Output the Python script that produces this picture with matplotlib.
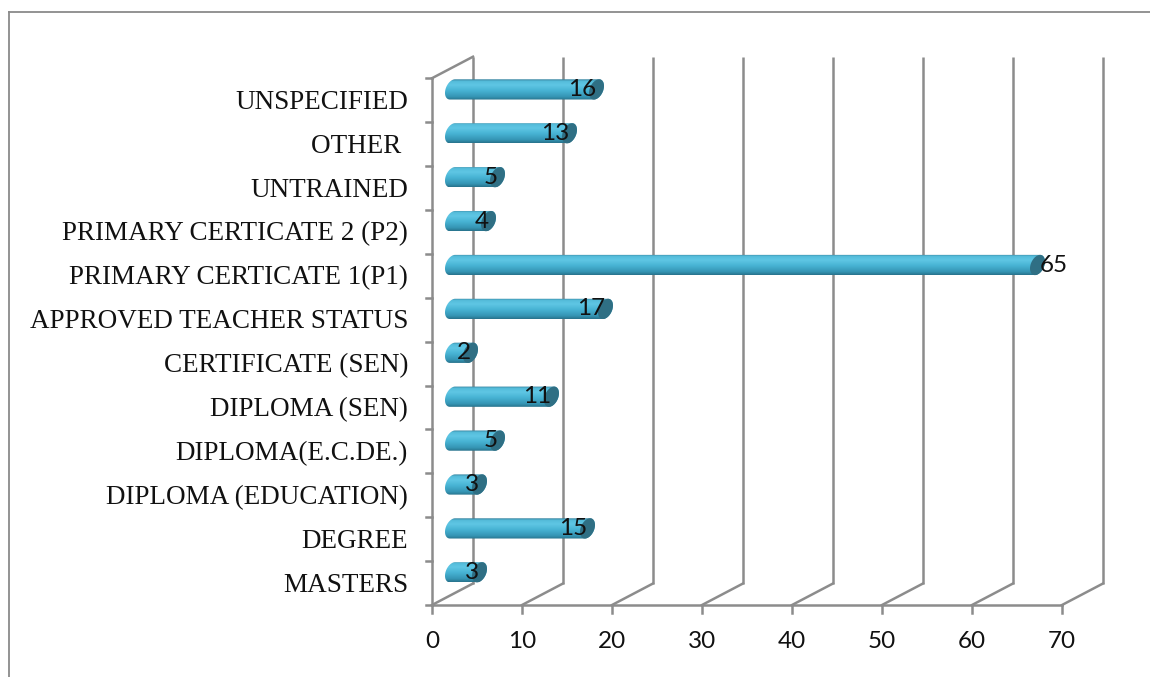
import numpy as np
import matplotlib
matplotlib.use("Agg")
import matplotlib.pyplot as plt
from matplotlib.patches import Polygon
from matplotlib.colors import LinearSegmentedColormap
from matplotlib.lines import Line2D

categories = ['MASTERS', 'DEGREE', 'DIPLOMA (EDUCATION)', 'DIPLOMA(E.C.DE.)',
              'DIPLOMA (SEN)', 'CERTIFICATE (SEN)', 'APPROVED TEACHER STATUS',
              'PRIMARY CERTICATE 1(P1)', 'PRIMARY CERTICATE 2 (P2)', 'UNTRAINED',
              'OTHER ', 'UNSPECIFIED']
values = [3, 15, 3, 5, 11, 2, 17, 65, 4, 5, 13, 16]
xticks = [0, 10, 20, 30, 40, 50, 60, 70]

W, H = 1150, 677
fig = plt.figure(figsize=(W / 100, H / 100), dpi=100)
ax = fig.add_axes([0, 0, 1, 1])

# pixel scale of the plot: 9 px per unit in x, 43.9 px per category in y
kx, ky = 9.0, 43.9
x0px, y0px = 432, 605
ax.set_xlim(-x0px / kx, (W - x0px) / kx)
ax.set_ylim(-(H - y0px) / ky, y0px / ky)
ax.axis('off')

n = len(categories)
dx, dy = 41 / kx, 21.5 / ky   # depth offset of 3d box
gcol = '#8c8c8c'
glw = 1.8

# back wall gridlines + floor diagonals
for t in xticks:
    ax.plot([t + dx, t + dx], [dy, n + dy], color=gcol, lw=glw, zorder=1,
            solid_capstyle='butt')
    ax.plot([t, t + dx], [0, dy], color=gcol, lw=glw, zorder=1)
# front floor line and left wall
ax.plot([0, xticks[-1]], [0, 0], color=gcol, lw=glw, zorder=1)
ax.plot([0, 0], [0, n], color=gcol, lw=glw, zorder=1)
ax.plot([0, dx], [n, n + dy], color=gcol, lw=glw, zorder=1)
for t in xticks:
    ax.plot([t, t], [0, -8 / ky], color=gcol, lw=glw, zorder=1)
    ax.text(t, -36 / ky, str(t), ha='center', va='center', fontsize=17.5,
            family='Lato', color='#111111')
for i in range(n + 1):
    ax.plot([0, -6 / kx], [i, i], color=gcol, lw=glw, zorder=1)

# category labels
for i, c in enumerate(categories):
    ax.text(-24 / kx, i + 0.45, c, ha='right', va='center', fontsize=19.5,
            family='Liberation Serif', color='#111111')

# cylinder bars
cmap = LinearSegmentedColormap.from_list('cyl', [
    (0.0, '#28738c'), (0.15, '#3595b4'), (0.45, '#47b3d4'),
    (0.72, '#5fc6e4'), (0.9, '#55bddb'), (1.0, '#357f9a')])
grad = np.linspace(0, 1, 64).reshape(-1, 1)

th = np.linspace(0, 2 * np.pi, 80)
ex = 7.5 * np.sin(th) / kx
ey = (9.5 * np.cos(th) + 3.5 * np.sin(th)) / ky


def hull(pts):
    pts = sorted(map(tuple, pts))
    def cross(o, a, b):
        return (a[0] - o[0]) * (b[1] - o[1]) - (a[1] - o[1]) * (b[0] - o[0])
    lower, upper = [], []
    for p in pts:
        while len(lower) >= 2 and cross(lower[-2], lower[-1], p) <= 0:
            lower.pop()
        lower.append(p)
    for p in reversed(pts):
        while len(upper) >= 2 and cross(upper[-2], upper[-1], p) <= 0:
            upper.pop()
        upper.append(p)
    return np.array(lower[:-1] + upper[:-1])


for i, v in enumerate(values):
    cy = i + 0.5 + dy / 2
    xa, xb = dx / 2, v + dx / 2
    pts = np.vstack([np.column_stack([xa + ex, cy + ey]),
                     np.column_stack([xb + ex, cy + ey])])
    shape = Polygon(hull(pts), closed=True, facecolor='none', edgecolor='none')
    ax.add_patch(shape)
    im = ax.imshow(grad, cmap=cmap, origin='lower', aspect='auto',
                   extent=[pts[:, 0].min(), pts[:, 0].max(),
                           pts[:, 1].min(), pts[:, 1].max()], zorder=3)
    im.set_clip_path(shape)
    ax.add_patch(Polygon(np.column_stack([xb + ex, cy + ey]), closed=True,
                         facecolor='#2f6f84', edgecolor='none', zorder=4))
    if v > 50:
        ax.text(xb + 0.3, cy, str(v), ha='left', va='center', fontsize=17.5,
                family='Lato', color='#111111', zorder=5)
    else:
        ax.text(xb, cy, str(v), ha='right', va='center', fontsize=17.5,
                family='Lato', color='#111111', zorder=5)

ax.set_xlim(-x0px / kx, (W - x0px) / kx)
ax.set_ylim(-(H - y0px) / ky, y0px / ky)

# outer chart frame
fig.add_artist(Line2D([9 / W, 1], [1 - 12 / H, 1 - 12 / H], color='#8a8a8a', lw=1.3))
fig.add_artist(Line2D([9 / W, 9 / W], [0, 1 - 12 / H], color='#8a8a8a', lw=1.3))

fig.savefig('out.png', dpi=100)
